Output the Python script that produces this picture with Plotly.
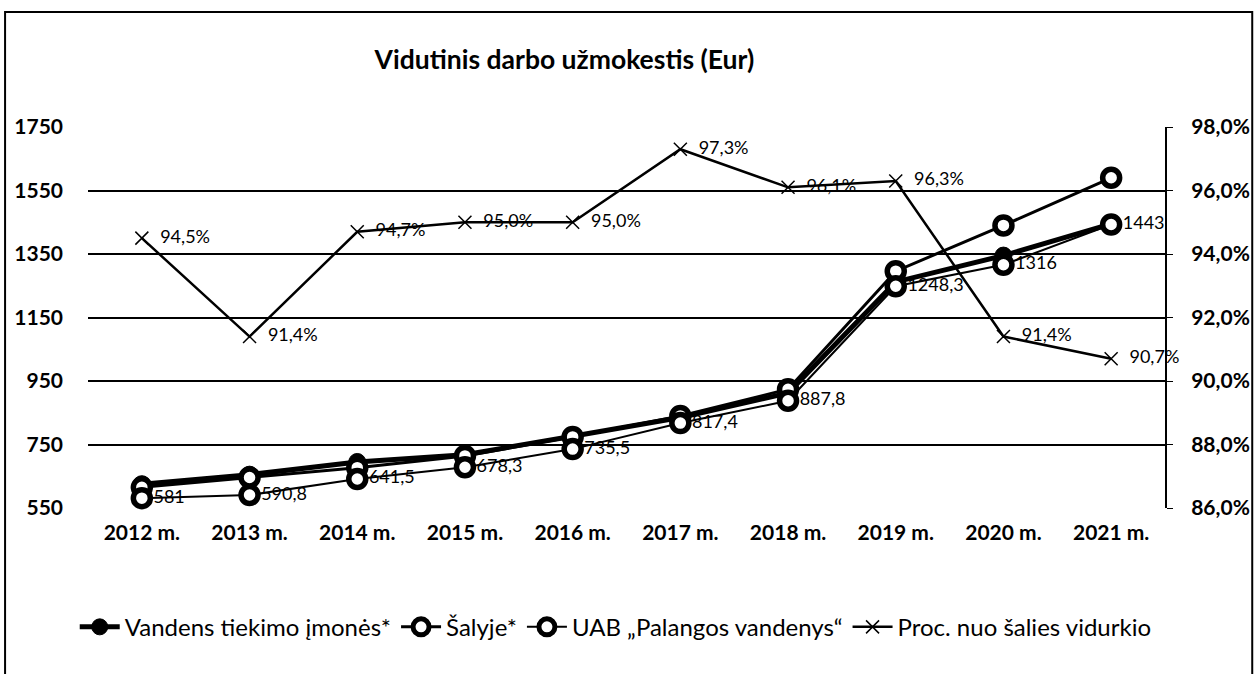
import plotly.graph_objects as go

BLACK = '#000000'
FONT = 'Lato, sans-serif'

metai = ['2012 m.', '2013 m.', '2014 m.', '2015 m.', '2016 m.',
         '2017 m.', '2018 m.', '2019 m.', '2020 m.', '2021 m.']

vandens_imones = [625, 655, 695, 718, 776, 835, 912, 1262, 1345, 1445]
salyje = [615, 646, 677, 714, 774, 840, 924, 1296, 1440, 1590]
palangos = [581, 590.8, 641.5, 678.3, 735.5, 817.4, 887.8, 1248.3, 1316, 1443]
proc_vidurkio = [94.5, 91.4, 94.7, 95.0, 95.0, 97.3, 96.1, 96.3, 91.4, 90.7]

left_ticks = [550, 750, 950, 1150, 1350, 1550, 1750]
right_ticks = [86, 88, 90, 92, 94, 96, 98]


def lt_num(v):
    # lithuanian decimal comma, whole numbers without decimals
    if float(v).is_integer():
        return str(int(v))
    return f'{v:.1f}'.replace('.', ',')


def lt_pct(v):
    return f'{v:.1f}'.replace('.', ',') + '%'


fig = go.Figure()

fig.add_trace(go.Scatter(
    x=metai, y=vandens_imones, name='Vandens tiekimo įmonės*',
    mode='lines+markers',
    line=dict(color=BLACK, width=5),
    marker=dict(symbol='circle', size=17, color=BLACK,
                line=dict(color=BLACK, width=1)),
))
fig.add_trace(go.Scatter(
    x=metai, y=salyje, name='Šalyje*',
    mode='lines+markers',
    line=dict(color=BLACK, width=3),
    marker=dict(symbol='circle', size=17, color='white',
                line=dict(color=BLACK, width=5.5)),
))
fig.add_trace(go.Scatter(
    x=metai, y=palangos, name='UAB „Palangos vandenys“',
    mode='lines+markers+text',
    line=dict(color=BLACK, width=2),
    marker=dict(symbol='circle', size=17, color='white',
                line=dict(color=BLACK, width=5.5)),
    text=[lt_num(v) for v in palangos],
    textposition='middle right',
    textfont=dict(family=FONT, size=18, color=BLACK),
    cliponaxis=False,
))
fig.add_trace(go.Scatter(
    x=metai, y=proc_vidurkio, name='Proc. nuo šalies vidurkio',
    yaxis='y2',
    mode='lines+markers+text',
    line=dict(color=BLACK, width=2.5),
    marker=dict(symbol='x-thin-open', size=13,
                line=dict(color=BLACK, width=1.5)),
    text=['  ' + lt_pct(v) for v in proc_vidurkio],
    textposition='middle right',
    textfont=dict(family=FONT, size=18, color=BLACK),
    cliponaxis=False,
))

fig.update_layout(
    width=1257, height=674,
    font=dict(family=FONT, color=BLACK, size=20),
    paper_bgcolor='white',
    plot_bgcolor='white',
    separators=', ',
    margin=dict(l=88, r=92, t=127, b=166, autoexpand=False),
    showlegend=True,
    title=dict(
        text='Vidutinis darbo užmokestis (Eur)',
        x=0.449, xanchor='center', y=0.911, yanchor='middle',
        font=dict(family=FONT, size=26.5, weight='bold', color=BLACK),
    ),
    legend=dict(
        orientation='h', x=0.49, xanchor='center', y=-0.313, yanchor='middle',
        font=dict(family=FONT, size=24, color=BLACK),
        itemwidth=40, tracegroupgap=0,
    ),
    xaxis=dict(
        range=[-0.5, len(metai) - 0.5],
        showgrid=False, showline=False, ticks='', automargin=False,
        tickfont=dict(family=FONT, size=21, weight='bold'),
        ticklabelstandoff=10,
    ),
    yaxis=dict(
        range=[550, 1750], tickvals=left_ticks, automargin=False,
        showgrid=True, gridcolor=BLACK, gridwidth=1.5,
        zeroline=False, showline=False, ticks='',
        tickfont=dict(family=FONT, size=21, weight='bold'),
        ticklabelstandoff=24,
    ),
    yaxis2=dict(
        overlaying='y', side='right', automargin=False,
        range=[86, 98], tickvals=right_ticks,
        ticktext=[lt_pct(v) for v in right_ticks],
        showgrid=False, zeroline=False,
        showline=True, linecolor=BLACK, linewidth=2,
        ticks='outside', ticklen=6, tickcolor=BLACK,
        tickfont=dict(family=FONT, size=21, weight='bold'),
        ticklabelstandoff=14,
    ),
    hovermode=False,
)

# outer frame around the whole chart
fig.add_shape(
    type='rect', xref='paper', yref='paper',
    x0=-0.077, x1=1.081, y0=-0.5, y1=1.302,
    line=dict(color=BLACK, width=2), fillcolor='rgba(0,0,0,0)',
    layer='below',
)

fig.write_html('out.html', config={'displayModeBar': False},
               post_script="document.body.style.margin='0';")
